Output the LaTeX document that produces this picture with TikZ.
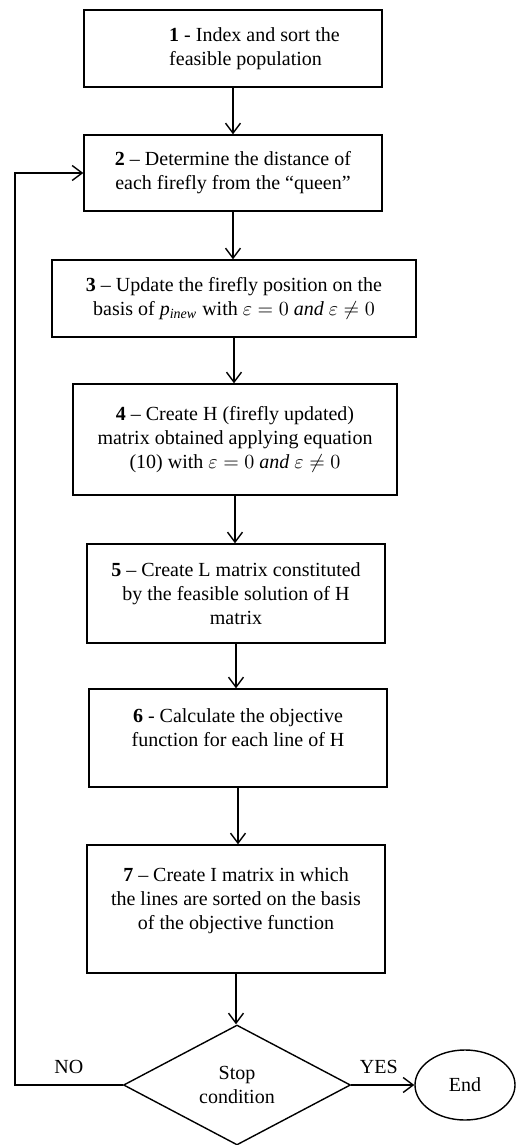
\documentclass[tikz,border=0pt]{standalone}
\usepackage{fontspec}
\setmainfont{Liberation Serif}
\usetikzlibrary{shapes.geometric,arrows.meta}

\begin{document}
\begin{tikzpicture}[x=0.5pt, y=-0.5pt, line width=0.7pt,
		>={Straight Barb[length=5pt,width=7.5pt]},
		stepbox/.style={draw, rectangle, align=center, inner sep=0pt},
		decision/.style={draw, diamond, align=center, inner sep=0pt},
		terminal/.style={draw, ellipse, inner sep=0pt},
		answer/.style={above, yshift=2pt}]
	\useasboundingbox (0,0) rectangle (517,1145);
	% steps of the loop
	\node [stepbox, align=left, minimum width=149pt, minimum height=38.5pt] (s1) at (233,48.5) {\hspace*{21.5pt}\textbf{1} - Index and sort the\\ \hspace*{21.5pt}feasible population};
	\node [stepbox, minimum width=149pt, minimum height=38pt] (s2) at (233,173) {\textbf{2} – Determine the distance of\\each firefly from the “queen”};
	\node [stepbox, minimum width=182pt, minimum height=38.5pt] (s3) at (234,298.5) {\textbf{3} – Update the firefly position on the\\basis of \textit{p}\textsubscript{\textit{inew}} with $\varepsilon = 0\ \mathit{and}\ \varepsilon \neq 0$};
	\node [stepbox, minimum width=162pt, minimum height=55.5pt] (s4) at (235,439.5) {\textbf{4} – Create H (firefly updated)\\matrix obtained applying equation\\(10) with $\varepsilon = 0\ \mathit{and}\ \varepsilon \neq 0$};
	\node [stepbox, minimum width=149pt, minimum height=49.5pt] (s5) at (236,593.5) {\textbf{5} – Create L matrix constituted\\by the feasible solution of H\\matrix};
	\node [stepbox, minimum width=149pt, minimum height=49pt] (s6) at (238,738) {\textbf{6} - Calculate the objective\\function for each line of H\\[-2pt]\mbox{}};
	\node [stepbox, minimum width=149pt, minimum height=64pt] (s7) at (236,909) {\textbf{7} – Create I matrix in which\\the lines are sorted on the basis\\of the objective function\\[-2pt]\mbox{}};
	\node [decision, minimum width=113.5pt, minimum height=60pt] (stop) at (237,1085) {Stop\\condition};
	\node [terminal, minimum width=50pt, minimum height=35pt] (finish) at (465,1085) {End};
	% arrows
	\draw [->] (s1.south) -- (s1.south |- s2.north);
	\draw [->] (s2.south) -- (s2.south |- s3.north);
	\draw [->] (s3.south) -- (s3.south |- s4.north);
	\draw [->] (s4.south) -- (s4.south |- s5.north);
	\draw [->] (s5.south) -- (s5.south |- s6.north);
	\draw [->] (s6.south) -- (s6.south |- s7.north);
	\draw [->] (s7.south) -- (s7.south |- stop.north);
	\coordinate (back) at (15,1085);
	\draw [->] (stop.west) -- node [answer]{NO} (back) |- (s2.west);
	\draw [->] (stop.east) -- node [answer, xshift=-2pt]{YES} (finish.west);
\end{tikzpicture}
\end{document}
